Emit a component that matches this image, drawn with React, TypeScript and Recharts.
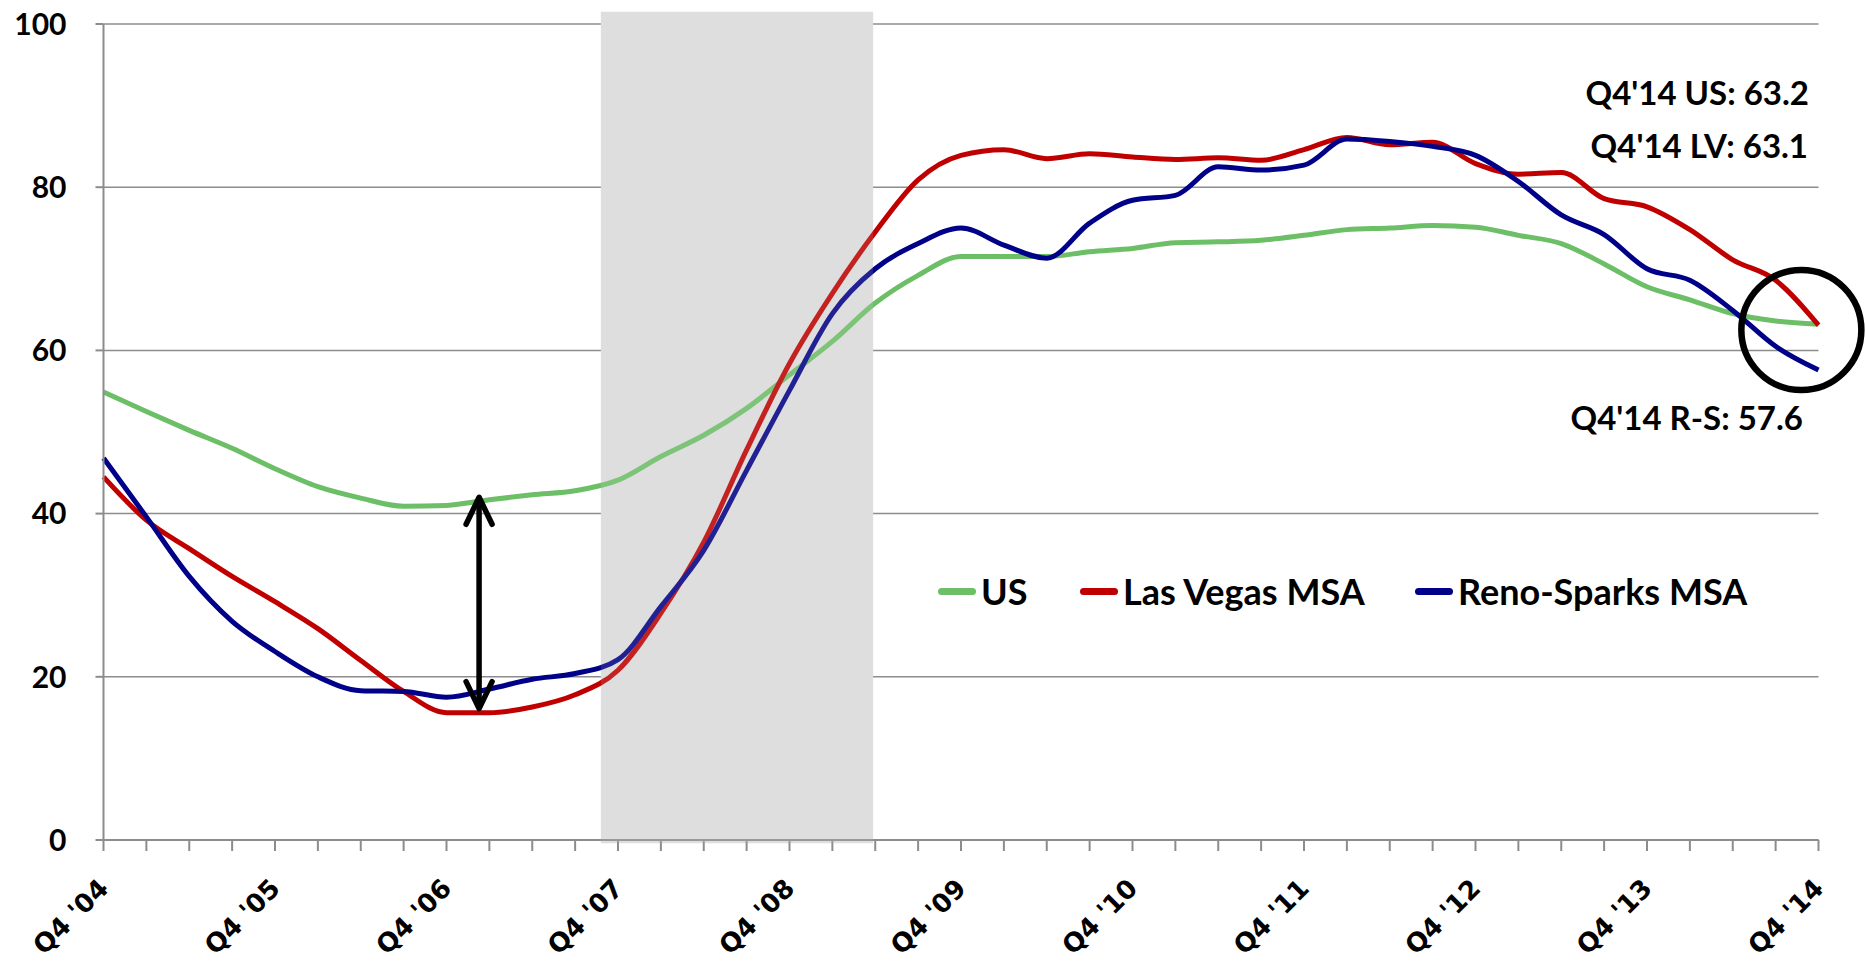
import React from 'react';
import { LineChart, Line, XAxis, YAxis, CartesianGrid, ReferenceArea, ReferenceDot, ReferenceLine, Legend } from 'recharts';

const quarterLabels = ["Q4 '04", "Q4 '05", "Q4 '06", "Q4 '07", "Q4 '08", "Q4 '09", "Q4 '10", "Q4 '11", "Q4 '12", "Q4 '13", "Q4 '14"];

const usValues = [
  54.9, 52.5, 50.2, 48.0, 45.5, 43.3, 41.9, 40.9, 41.0, 41.7, 42.3, 42.8, 44.1,
  47.0, 49.6, 52.9, 57.0, 61.1, 65.8, 69.2, 71.5, 71.5, 71.5, 72.1,
  72.5, 73.2, 73.3, 73.5, 74.1, 74.8, 75.0, 75.3, 75.1, 74.1, 73.1, 70.6, 67.8,
  66.2, 64.5, 63.6, 63.2,
];

const lasVegasValues = [
  44.5, 39.2, 35.7, 32.3, 29.2, 25.9, 22.0, 18.2, 15.6, 15.6, 16.3, 17.8, 20.8,
  27.8, 36.5, 47.8, 58.4, 67.0, 74.5, 80.9, 83.9, 84.6, 83.5, 84.1,
  83.7, 83.4, 83.6, 83.3, 84.6, 86.1, 85.2, 85.5, 82.9, 81.6, 81.8, 78.6, 77.6,
  74.8, 71.1, 68.6, 63.1,
];

const renoSparksValues = [
  46.8, 39.6, 32.3, 26.8, 23.1, 20.0, 18.3, 18.2, 17.5, 18.5, 19.7, 20.4, 22.1,
  28.6, 35.5, 45.3, 55.1, 64.5, 70.0, 73.1, 75.0, 72.9, 71.3, 75.6,
  78.4, 79.0, 82.5, 82.1, 82.7, 85.9, 85.6, 85.0, 83.9, 80.7, 76.6, 74.2, 70.0,
  68.6, 64.9, 60.5, 57.6,
];

const yTicks = [0, 20, 40, 60, 80, 100];

// recession shading (in quarters from Q4 '04)
const recessionStart = 11.6;
const recessionEnd = 17.95;

// gap arrow and end-of-series circle
const arrowQuarter = 8.76;
const arrowTop = 42.0;
const arrowBottom = 16.1;
const circleQuarter = 39.6;
const circleValue = 62.5;

const notes = [
  { text: "Q4'14 US: 63.2", right: 56, top: 72 },
  { text: "Q4'14 LV: 63.1", right: 57, top: 125 },
  { text: "Q4'14 R-S: 57.6", right: 62, top: 397 },
];

const series = [
  { key: 'us', name: 'US', color: '#6dbf67' },
  { key: 'lv', name: 'Las Vegas MSA', color: '#c00000' },
  { key: 'rs', name: 'Reno-Sparks MSA', color: '#000088' },
];

const data = usValues.map((v, i) => ({
  q: i,
  us: v,
  lv: lasVegasValues[i],
  rs: renoSparksValues[i],
}));

const quarterTicks = data.map((d) => d.q);

const gridColor = '#8c8c8c';
const font = 'Lato, "Open Sans", sans-serif';

const quarterLabel = (q: number) => (q % 4 === 0 ? quarterLabels[q / 4] : '');

const YTick = (props: any) => {
  const { x, y, payload } = props;
  return (
    <text x={x - 27} y={y} dy="0.36em" textAnchor="end" fontFamily={font} fontWeight="bold" fontSize={30} fill="#000">
      {payload.value}
    </text>
  );
};

const ArrowShape = (props: any) => {
  const { x1, y1, x2, y2 } = props;
  const x = x1 ?? x2;
  const top = Math.min(y1, y2);
  const bottom = Math.max(y1, y2);
  const hw = 13;
  const hh = 27;
  return (
    <g stroke="#000" strokeWidth={5.5} fill="none" strokeLinecap="round" strokeLinejoin="round">
      <line x1={x} y1={top + 3} x2={x} y2={bottom - 3} />
      <polyline points={`${x - hw},${top + hh} ${x},${top} ${x + hw},${top + hh}`} />
      <polyline points={`${x - hw},${bottom - hh} ${x},${bottom} ${x + hw},${bottom - hh}`} />
    </g>
  );
};

const renderLegend = () => {
  const offsets = [0, 142, 477];
  return (
    <div style={{ position: 'relative', height: 44 }}>
      {series.map((s, i) => (
        <div
          key={s.key}
          style={{ position: 'absolute', left: offsets[i], top: 0, display: 'flex', alignItems: 'center', whiteSpace: 'nowrap' }}
        >
          <span style={{ display: 'inline-block', width: 38, height: 7, borderRadius: 3.5, background: s.color, marginRight: 5 }} />
          <span style={{ fontFamily: font, fontWeight: 'bold', fontSize: 36, color: '#000', lineHeight: '44px' }}>{s.name}</span>
        </div>
      ))}
    </div>
  );
};

export default function App() {
  return (
    <div style={{ position: 'absolute', left: 0, top: 0, width: 1865, height: 966, background: '#fff', overflow: 'hidden' }}>
      <LineChart width={1865} height={966} data={data} margin={{ top: 24, right: 46.5, left: 0, bottom: 0 }}>
        <ReferenceArea
          x1={recessionStart}
          x2={recessionEnd}
          y1={-0.4}
          y2={101.5}
          fill="#dedede"
          fillOpacity={1}
          stroke="none"
          ifOverflow="visible"
        />
        <CartesianGrid vertical={false} stroke={gridColor} strokeWidth={1.5} />
        <XAxis
          type="number"
          dataKey="q"
          domain={[0, 40]}
          ticks={quarterTicks}
          interval={0}
          height={126}
          tickSize={11}
          tickMargin={26}
          angle={-45}
          textAnchor="end"
          tickFormatter={quarterLabel}
          axisLine={{ stroke: gridColor, strokeWidth: 2 }}
          tickLine={{ stroke: gridColor, strokeWidth: 2 }}
          tick={{ fontFamily: '"DejaVu Sans", sans-serif', fontWeight: 'bold', fontSize: 26, fill: '#000', dx: -6.5 }}
        />
        <YAxis
          domain={[0, 100]}
          ticks={yTicks}
          width={103.5}
          tickSize={8}
          axisLine={{ stroke: gridColor, strokeWidth: 2 }}
          tickLine={{ stroke: gridColor, strokeWidth: 2 }}
          tick={<YTick />}
        />
        {series.map((s) => (
          <Line
            key={s.key}
            type="monotone"
            dataKey={s.key}
            name={s.name}
            stroke={s.color}
            strokeWidth={5}
            dot={false}
            activeDot={false}
            isAnimationActive={false}
          />
        ))}
        <ReferenceArea
          x1={recessionStart}
          x2={recessionEnd}
          y1={-0.4}
          y2={101.5}
          fill="#dedede"
          fillOpacity={0.15}
          stroke="none"
          ifOverflow="visible"
          zIndex={500}
        />
        <ReferenceLine
          segment={[{ x: arrowQuarter, y: arrowTop }, { x: arrowQuarter, y: arrowBottom }]}
          shape={ArrowShape}
          ifOverflow="visible"
        />
        <ReferenceDot
          x={circleQuarter}
          y={circleValue}
          r={60}
          fill="none"
          stroke="#000"
          strokeWidth={6.5}
          ifOverflow="visible"
        />
        <Legend
          layout="horizontal"
          verticalAlign="middle"
          align="center"
          content={renderLegend}
          wrapperStyle={{ left: 938, top: 569, width: 700, height: 44 }}
        />
      </LineChart>
      {notes.map((n) => (
        <div
          key={n.text}
          style={{ position: 'absolute', right: n.right, top: n.top, fontFamily: font, fontWeight: 'bold', fontSize: 33, color: '#000', lineHeight: '40px', whiteSpace: 'nowrap' }}
        >
          {n.text}
        </div>
      ))}
    </div>
  );
}
